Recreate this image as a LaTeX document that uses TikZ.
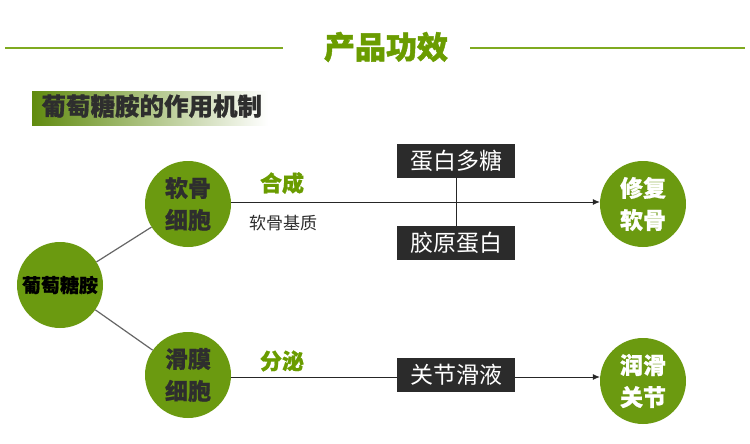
\documentclass[tikz,border=0pt]{standalone}
\usepackage{fontspec}
\setmainfont{Noto Sans CJK SC}
\newfontfamily\cjk{Noto Sans CJK SC}
\newfontfamily\cjkheavy[FakeBold=1.6]{Noto Sans CJK SC}
\newfontfamily\cjkmid[FakeBold=0.8]{Noto Sans CJK SC}
\usetikzlibrary{arrows.meta}
\definecolor{gtitle}{HTML}{6A9C00}
\definecolor{gline}{HTML}{7FAA20}
\definecolor{gcirc}{HTML}{6B9A10}
\definecolor{dbox}{HTML}{2B2B2B}
\definecolor{dtext}{HTML}{2E2E2E}
\tikzset{
  circ/.style={circle, fill=gcirc, minimum size=86pt, inner sep=0pt, align=center},
  darkbox/.style={fill=dbox, text=white, minimum width=118pt, minimum height=34pt, inner sep=0pt, font=\cjk\fontsize{23}{23}\selectfont},
  link/.style={draw=gray!80!black, line width=1.2pt},
  flow/.style={draw=black!85, line width=0.8pt},
}
\begin{document}
\begin{tikzpicture}[x=1pt,y=-1pt]
\useasboundingbox (0,0) rectangle (750,444);
\fill[white] (0,0) rectangle (750,444);
% title
\node[text=gtitle, font=\cjkheavy\bfseries\fontsize{31}{31}\selectfont] (title) at (386,47) {产品功效};
\draw[gline, line width=1.2pt] (5,48) -- (283,48);
\draw[gline, line width=1.2pt] (470,48) -- (745,48);
% header banner
\shade[left color=gcirc!90!black, right color=white] (32,92) rectangle (268,125);
\node[anchor=west, text=dtext, font=\cjkmid\bfseries\fontsize{24.5}{24.5}\selectfont] (hdr) at (38,106) {葡萄糖胺的作用机制};
% circles
\node[circ, text=black, font=\cjkmid\bfseries\fontsize{19}{19}\selectfont] (g) at (60,285) {葡萄糖胺};
\node[circ, text=dtext, font=\cjkmid\bfseries\fontsize{23}{32}\selectfont] (rg) at (188,204) {软骨\\细胞};
\node[circ, text=dtext, font=\cjkmid\bfseries\fontsize{23}{32}\selectfont] (hm) at (188,375) {滑膜\\细胞};
\node[circ, text=white, font=\cjkmid\bfseries\fontsize{23}{32}\selectfont] (xf) at (643,204) {修复\\软骨};
\node[circ, text=white, font=\cjkmid\bfseries\fontsize{23}{32}\selectfont] (rh) at (643,381) {润滑\\关节};
% links
\draw[link] (g) -- (rg);
\draw[link] (g) -- (hm);
% boxes
\node[darkbox] (b1) at (456,161) {蛋白多糖};
\node[darkbox] (b2) at (456,243) {胶原蛋白};
\node[darkbox] (b3) at (456,375) {关节滑液};
\draw[flow] (b1) -- (b2);
% flows
\draw[flow, -{Latex[length=7pt,width=6pt]}] (rg.east |- 0,202) -- (xf.west |- 0,202);
\draw[flow] (hm.east |- 0,377) -- (b3.west |- 0,377);
\draw[flow, -{Latex[length=7pt,width=6pt]}] (b3.east |- 0,377) -- (rh.west |- 0,377);
% labels
\node[text=gtitle, font=\cjkmid\bfseries\fontsize{22}{22}\selectfont] (hc) at (282,183) {合成};
\node[text=dtext, font=\cjk\fontsize{17}{17}\selectfont] (jz) at (283,223) {软骨基质};
\node[text=gtitle, font=\cjkmid\bfseries\fontsize{22}{22}\selectfont] (fm) at (282,361) {分泌};
\end{tikzpicture}
\end{document}
